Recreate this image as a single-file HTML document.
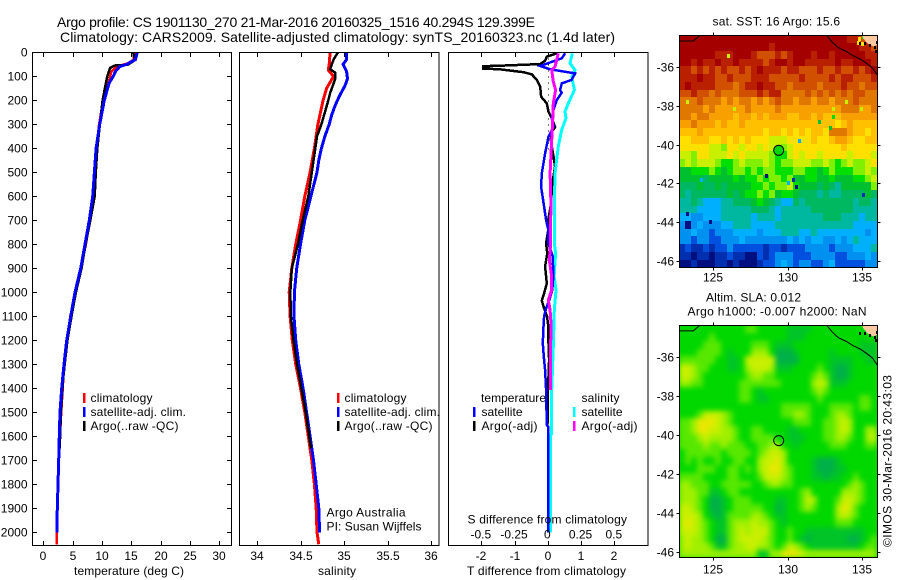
<!DOCTYPE html>
<html>
<head>
<meta charset="utf-8">
<title>Argo profile CS 1901130_270</title>
<style>
html,body{margin:0;padding:0;background:#fff;width:900px;height:580px;overflow:hidden}
svg{display:block}
text{font-family:"Liberation Sans",sans-serif;font-size:12px;fill:#000}
.t14{font-size:14px}
</style>
</head>
<body>
<svg id="chart" xmlns="http://www.w3.org/2000/svg" width="900" height="580" viewBox="0 0 900 580">
  <defs>
    <filter id="slaSmooth" x="-5%" y="-5%" width="110%" height="110%" color-interpolation-filters="sRGB">
      <feGaussianBlur stdDeviation="2.6" edgeMode="duplicate"/>
    </filter>
    <clipPath id="slaClip"><rect x="679.5" y="325.5" width="198" height="232"/></clipPath>
  </defs>
  <rect x="0" y="0" width="900" height="580" fill="#fff"/>
  <text class="t14" x="57" y="27" textLength="478">Argo profile: CS 1901130_270 21-Mar-2016 20160325_1516 40.294S 129.399E</text>
  <text class="t14" x="60" y="42" textLength="555">Climatology: CARS2009. Satellite-adjusted climatology: synTS_20160323.nc (1.4d later)</text>

  <g id="marks1"></g>
  <g id="marks2"></g>
  <g id="marks3"></g>
  <g id="map1"></g>
  <g clip-path="url(#slaClip)">
    <rect x="679.5" y="325.5" width="198" height="232" fill="#00d800"/>
    <g id="map2" filter="url(#slaSmooth)"></g>
  </g>
  <g id="map2over"></g>
  <g id="axes"></g>

  <text x="74" y="575" textLength="110">temperature (deg C)</text>
  <text x="318" y="575" textLength="38">salinity</text>
  <text x="467" y="575" textLength="159">T difference from climatology</text>
  <text x="467.5" y="523.5" textLength="159.5">S difference from climatology</text>

  <g>
    <rect x="83" y="393" width="2.5" height="10" fill="#f00"/>
    <text x="90.5" y="402" textLength="62">climatology</text>
    <rect x="83" y="407" width="2.5" height="10" fill="#00f"/>
    <text x="90.5" y="416" textLength="95.5">satellite-adj. clim.</text>
    <rect x="83" y="421" width="2.5" height="10" fill="#000"/>
    <text x="90.5" y="430" textLength="88">Argo(..raw -QC)</text>
  </g>
  <g>
    <rect x="337" y="393" width="2.5" height="10" fill="#f00"/>
    <text x="344.5" y="402" textLength="62">climatology</text>
    <rect x="337" y="407" width="2.5" height="10" fill="#00f"/>
    <text x="344.5" y="416" textLength="95.5">satellite-adj. clim.</text>
    <rect x="337" y="421" width="2.5" height="10" fill="#000"/>
    <text x="344.5" y="430" textLength="88">Argo(..raw -QC)</text>
  </g>
  <g>
    <text x="481" y="402" textLength="65">temperature</text>
    <rect x="473" y="407" width="2.5" height="10" fill="#00f"/>
    <text x="481.5" y="416" textLength="41">satellite</text>
    <rect x="473" y="421" width="2.5" height="10" fill="#000"/>
    <text x="481.5" y="430" textLength="56">Argo(-adj)</text>
    <text x="581.5" y="402" textLength="38">salinity</text>
    <rect x="573" y="407" width="2.5" height="10" fill="#0ff"/>
    <text x="581.5" y="416" textLength="41">satellite</text>
    <rect x="573" y="421" width="2.5" height="10" fill="#f0f"/>
    <text x="581.5" y="430" textLength="56">Argo(-adj)</text>
  </g>
  <text x="326.5" y="516.5" textLength="79">Argo Australia</text>
  <text x="326.5" y="530.5" textLength="95">PI: Susan Wijffels</text>

  <text x="712.5" y="25.5" textLength="127.5">sat. SST: 16 Argo: 15.6</text>
  <text x="706" y="301.5" textLength="95">Altim. SLA: 0.012</text>
  <text x="687.5" y="315.5" textLength="179">Argo h1000: -0.007 h2000: NaN</text>
  <text transform="translate(891.5,547) rotate(-90)" x="0" y="0" textLength="172">©IMOS 30-Mar-2016 20:43:03</text>
</svg>
<script>
// ---------- profile data (depth in dbar) ----------
const tempClimDepth=[0,30,45,60,80,120,170,200,300,400,500,600,700,800,900,1000,1100,1200,1300,1400,1500,1550,1700,2000,2050];
const tempClimValue=[15.5,15.4,14.5,12.5,11.6,11.2,10.7,10.2,9.5,9.1,8.8,8.5,7.9,7.25,6.4,5.5,4.6,4.1,3.55,3.3,3.05,2.95,2.6,2.25,2.25];
const tempArgoDepth=[0,32,52,55,65,100,150,200,300,400,500,600,700,800,900,1000,1100,1200,1300,1367,1500,1650];
const tempArgoValue=[15.3,15.6,14.4,12.2,11.4,10.9,10.5,10.1,9.65,9.2,8.95,8.75,8,7.2,6.5,5.55,4.8,4.1,3.65,3.35,3,2.8];
const tempSatDepth=[0,30,50,60,80,100,130,200,300,400,500,600,700,800,900,1000,1100,1200,1300,1400,1500,1600,1700,1800,1900,2000];
const tempSatValue=[16,15.7,14.2,13,12.3,11.9,11.2,10.4,9.6,9,8.7,8.41,7.84,7.1,6.37,5.4,4.67,3.98,3.53,3.13,2.85,2.73,2.63,2.5,2.38,2.3];

const salClimDepth=[0,50,74,100,150,200,300,400,500,600,700,800,900,1000,1100,1200,1300,1400,1500,1600,1700,1800,1900,2000,2050];
const salClimValue=[34.84,34.83,34.82,34.88,34.8,34.76,34.7,34.66,34.61,34.55,34.5,34.445,34.4,34.37,34.38,34.406,34.445,34.5,34.55,34.59,34.63,34.66,34.68,34.69,34.71];
const salArgoDepth=[0,30,70,85,110,130,170,200,250,300,350,400,500,600,700,800,900,1000,1100,1200,1300,1400,1500,1650];
const salArgoValue=[34.93,34.88,34.84,34.9,34.9,34.88,34.84,34.82,34.78,34.74,34.69,34.67,34.63,34.59,34.525,34.47,34.4,34.383,34.39,34.42,34.46,34.51,34.56,34.62];
const salSatDepth=[0,30,50,80,110,140,180,220,260,300,350,400,450,500,600,700,800,900,1000,1100,1200,1300,1400,1500,1600,1700,1800,1900,2000];
const salSatValue=[35.03,35.03,34.99,35.03,35.04,35.01,34.95,34.9,34.86,34.83,34.78,34.74,34.71,34.69,34.62,34.55,34.5,34.456,34.43,34.425,34.445,34.48,34.53,34.57,34.61,34.65,34.68,34.71,34.72];

const dTArgoDepth=[4,18,35,49,56,58,68,71,83,92,115,143,185,213,247,275,312,331,366,435,477,532,643,699,740,796,838,893,963,1004,1035,1067,1101,1143,1213,1282,1351,1407,1553];
const dTArgoValue=[0.27,-0.03,-0.08,-0.23,-1.44,-1.94,-1.94,-1.44,-0.73,-0.48,-0.33,-0.23,-0.2,-0.03,0.02,0.12,0.22,0.12,0.09,0.17,0.22,0.15,0.08,0.015,0.015,-0.05,-0.015,-0.08,-0.03,-0.11,-0.18,-0.11,-0.02,0.015,0.02,0.04,0.02,0,-0.01];
const dTSatDepth=[4,25,57,71,88,115,129,157,168,199,240,275,310,352,421,504,560,643,699,740,796,851,935,990,1032,1067,1101,1157,1213,1268,1324,1407,1553,1560,2000];
const dTSatValue=[0.52,0.42,-0.23,0.07,0.82,0.72,0.42,0.37,0.42,0.27,0.17,0.12,0.17,0.02,-0.08,-0.18,-0.2,-0.11,-0.05,0.015,0.015,0.15,0.165,0.135,0.045,-0.05,-0.11,-0.135,-0.15,-0.12,-0.08,-0.05,-0.03,0.015,0.015];
const dSSatDepth=[4,46,74,102,157,213,247,275,324,393,504,657,796,838,935,990,1074,1213,1407,1590,1595,2000];
const dSSatValue=[0.184,0.167,0.205,0.18,0.2,0.154,0.129,0.137,0.104,0.079,0.054,0.049,0.049,0.059,0.047,0.062,0.049,0.042,0.029,0.029,0.019,0.019];
const dSArgoDepth=[4,60,74,122,157,213,282,366,504,643,740,796,865,935,990,1032,1074,1129,1213,1351,1407];
const dSArgoValue=[0.079,0.054,0.029,0.041,0.059,0.041,0.037,0.029,0.017,0.024,0.019,0.022,0.011,0.029,0.029,0.004,0.017,0.024,0.022,0.022,0.02];

// ---------- tick labels ----------
const depthTicks=[0,100,200,300,400,500,600,700,800,900,1000,1100,1200,1300,1400,1500,1600,1700,1800,1900,2000];
const tempTicks=[0,5,10,15,20,25,30];
const salTicks=[34,34.5,35,35.5,36];
const dTTicks=[-2,-1,0,1,2];
const dSTicks=[-0.5,-0.25,0,0.25,0.5];
const lonTicks=[125,130,135];
const latTicks=[-36,-38,-40,-42,-44,-46];
const argoLon=129.399;
const argoLat=-40.294;

// ---------- SST map levels, 30 rows by 33 columns, north to south ----------
const sstLevels=[
[17,17,17,17,17,17,17,17,17,17,17,17,17,17,17,17,17,17,17,17,17,17,17,17,17,17,17,17,16,16,15,15,15],
[17,17,17,17,17,17,17,17,17,17,17,17,17,17,17,16,17,17,17,17,17,17,17,17,17,17,17,17,17,17,16,16,15],
[17,17,17,17,17,17,16,16,16,17,17,17,16,15,15,15,16,15,16,17,17,17,16,17,17,16,17,17,17,17,17,16,16],
[17,17,16,17,16,16,17,16,16,17,16,16,16,16,15,16,17,17,16,17,17,16,16,16,16,16,17,16,16,17,17,17,16],
[16,16,15,16,15,16,15,16,15,15,16,15,16,17,16,16,16,15,16,16,15,15,15,16,15,15,16,15,15,16,15,16,17],
[16,16,16,17,16,16,15,15,16,15,15,15,16,16,16,15,15,15,15,15,16,15,15,15,15,16,15,16,16,15,15,15,16],
[16,17,16,16,16,16,15,15,15,14,15,16,16,17,16,16,15,15,14,15,15,15,15,14,15,15,15,16,15,15,14,15,15],
[15,15,16,15,15,14,15,14,14,14,15,15,15,16,15,16,16,14,14,14,14,15,14,15,14,15,14,15,14,15,15,14,14],
[14,14,14,15,14,14,14,13,14,13,14,14,13,14,13,14,15,14,14,13,14,14,13,14,14,13,14,14,14,15,14,14,14],
[14,14,14,14,13,14,13,13,13,13,13,14,13,13,13,13,14,13,13,13,13,13,13,13,13,13,13,14,14,14,13,13,14],
[14,14,13,14,14,13,13,13,13,12,13,13,12,13,12,13,13,13,12,12,13,13,12,13,12,12,12,13,13,13,13,13,13],
[13,13,14,13,13,13,12,13,12,12,13,12,12,12,12,12,12,12,12,12,12,12,12,12,12,12,11,12,13,12,12,12,12],
[12,12,12,13,12,12,12,12,12,12,12,12,12,12,11,12,12,11,12,11,12,11,12,12,11,14,14,14,13,12,12,11,12],
[11,11,12,12,12,11,11,12,11,12,11,12,11,11,11,10,10,10,11,11,11,11,12,11,11,12,13,13,12,11,11,12,12],
[11,11,11,11,11,10,10,9,11,11,10,11,11,10,11,10,10,9,10,11,11,11,11,11,11,11,11,12,11,11,11,11,11],
[10,10,9,11,11,10,10,10,11,10,11,10,10,10,10,9,8,8,10,11,10,11,11,10,11,11,11,11,10,11,11,11,10],
[9,10,9,10,10,10,9,8,8,9,10,9,9,9,10,9,8,9,9,10,10,10,9,9,10,9,8,9,10,9,9,10,11],
[7,7,8,8,8,9,8,7,8,9,9,8,9,8,9,9,8,8,8,9,9,8,8,7,8,9,8,8,8,9,9,10,9],
[7,7,7,7,6,7,7,7,7,8,7,8,8,9,8,9,9,8,9,7,7,8,8,7,7,8,7,7,7,8,8,9,10],
[6,6,6,7,6,6,7,6,7,7,7,7,8,8,9,8,9,9,10,8,7,7,7,6,7,6,5,7,7,7,7,7,9],
[6,5,6,6,6,6,6,6,7,6,7,8,8,9,8,9,7,8,8,7,6,6,6,5,6,5,5,6,6,6,6,7,6],
[5,5,6,5,4,4,4,5,5,6,6,6,7,8,7,6,5,4,4,6,5,6,6,6,6,6,6,6,6,5,6,6,5],
[5,5,5,4,4,4,4,5,5,5,5,5,6,6,6,5,4,5,5,5,5,5,6,6,6,6,6,6,6,5,5,5,5],
[4,4,3,3,4,4,4,5,5,5,5,5,4,5,5,5,4,5,5,5,5,5,5,5,6,6,6,5,5,5,4,5,5],
[3,0,3,4,3,3,3,4,4,5,5,5,4,4,4,4,5,5,5,5,5,5,5,5,5,5,5,5,5,4,4,4,4],
[3,3,4,3,3,2,3,3,3,4,4,4,4,3,4,4,4,5,5,5,4,4,5,4,4,4,4,4,4,4,4,3,4],
[3,3,2,3,3,2,2,3,3,3,4,3,3,3,3,3,3,3,4,3,4,3,4,4,3,3,4,3,4,5,4,4,4],
[1,2,1,1,2,1,2,2,3,2,2,2,2,2,1,2,2,1,2,2,2,3,3,3,3,2,3,3,3,4,4,4,5],
[1,1,0,1,1,0,1,1,2,1,1,0,0,2,1,2,3,3,3,2,2,2,3,3,3,3,2,2,3,3,3,4,3],
[0,0,1,0,0,0,1,1,0,1,0,0,0,1,2,2,3,4,3,2,3,3,2,2,3,4,2,2,2,2,2,3,3]
];
const sstSpeckLon=[126.0,123.25,126.41,133.97,133.1,133.1,132.13,132.9,130.78,134.98,128.59,130.38,130.6,135.13,123.25,124.78,124.2,130.04,134.85,135.0,134.75,135.1];
const sstSpeckLat=[-35.42,-37.79,-38.18,-37.79,-38.18,-38.6,-38.82,-39.16,-39.81,-38.18,-41.6,-41.81,-42.17,-42.6,-43.56,-43.97,-41.8,-42,-34.55,-34.8,-34.75,-34.45];
const sstSpeckLevel=[10,10,10,10,10,8,7,7,4,10,0,1,0,1,0,0,4,4,11,11,11,8];

// ---------- SLA map levels, 30 rows by 33 columns, north to south ----------
const slaLevels=[
[2,2,2,2,2,2,2,2,2,2,2,3,3,2,2,2,2,2,1,1,1,1,2,2,2,2,2,2,2,2,2,2,2],
[2,2,2,2,2,3,2,2,2,2,2,2,2,2,2,2,2,2,1,1,1,2,2,2,2,2,2,2,2,2,2,2,2],
[2,2,2,2,3,3,3,2,2,2,2,2,3,3,3,2,1,1,1,2,2,2,2,2,2,2,2,2,2,2,1,1,1],
[2,2,2,3,3,3,3,2,1,2,2,2,4,4,4,2,0,0,0,1,2,2,2,2,2,1,2,2,2,2,1,1,1],
[3,3,3,3,3,3,2,2,1,1,2,5,5,5,5,5,0,0,0,0,2,2,2,2,2,1,1,1,1,2,2,1,1],
[5,5,4,3,3,2,2,2,1,1,2,4,5,5,5,4,1,1,1,2,2,2,2,3,2,1,0,0,1,2,2,2,2],
[5,5,4,3,2,2,2,2,2,2,2,3,4,4,3,3,2,2,2,2,2,2,3,4,3,1,0,0,1,2,2,2,2],
[4,4,3,3,2,2,2,2,2,2,3,3,3,3,3,3,3,2,2,2,2,2,4,5,4,1,1,1,2,2,2,2,2],
[2,2,2,2,2,2,2,2,2,2,3,3,2,1,2,2,2,2,2,2,2,2,3,4,3,2,2,2,2,2,2,2,2],
[2,2,2,2,2,2,2,2,2,2,3,3,2,1,1,2,2,2,2,2,2,2,2,3,2,2,2,2,2,2,3,3,2],
[2,2,2,2,2,2,2,2,2,2,2,2,2,2,2,2,2,3,3,3,3,3,2,2,2,3,3,3,3,2,3,3,2],
[2,2,2,3,5,5,5,4,3,2,2,2,2,2,2,2,2,3,3,4,4,3,2,2,2,3,4,4,3,2,2,2,2],
[3,3,4,6,6,6,5,4,3,2,2,2,2,2,2,2,2,2,2,3,3,3,2,2,3,3,4,5,4,2,2,2,2],
[3,3,4,6,6,5,5,4,4,3,2,2,3,3,2,2,2,2,1,1,2,2,2,2,3,3,4,5,4,2,2,4,4],
[3,3,3,4,5,4,4,4,4,3,2,2,3,3,3,3,2,2,1,1,1,2,2,2,3,3,4,4,3,2,2,4,5],
[3,3,3,3,4,3,3,4,3,3,3,2,2,3,3,4,4,2,2,1,2,2,2,2,2,3,3,3,2,2,2,3,3],
[2,3,3,3,3,3,3,2,3,3,3,3,2,3,4,5,5,4,2,2,2,2,2,2,2,2,2,2,2,2,2,2,2],
[2,3,2,3,2,2,3,2,2,3,3,2,2,4,5,5,6,4,2,2,2,2,1,0,0,0,1,2,2,2,2,2,2],
[2,2,2,3,3,3,2,2,3,3,2,3,2,4,5,6,6,4,3,2,2,2,1,0,0,0,1,1,2,2,2,2,2],
[3,3,3,3,2,2,2,2,3,3,2,2,2,3,5,5,5,4,3,2,2,2,1,1,0,1,1,2,2,3,2,2,2],
[4,4,3,3,3,2,2,3,3,3,3,3,2,2,3,4,4,3,3,2,2,2,2,2,2,2,2,2,3,4,3,2,2],
[4,4,4,3,3,1,1,2,3,3,2,2,2,2,2,2,2,2,2,2,3,4,2,2,2,2,2,4,4,4,3,2,2],
[4,4,4,3,2,0,0,1,2,3,3,3,2,2,2,2,1,1,2,2,3,5,4,2,2,2,3,5,5,4,3,2,2],
[5,5,4,3,2,0,0,1,2,3,3,3,3,3,2,2,0,1,2,2,3,4,3,2,2,2,4,6,5,3,2,2,2],
[5,5,5,4,2,1,0,1,3,3,3,3,4,4,3,2,1,1,2,2,2,2,2,2,2,2,4,5,4,3,2,2,2],
[5,6,5,4,3,2,1,1,3,4,4,4,5,4,4,3,2,1,2,2,2,2,2,2,2,2,3,3,3,2,2,2,2],
[5,5,5,4,3,2,1,1,3,4,5,4,5,5,5,3,2,2,3,2,2,1,1,1,1,1,1,1,1,1,1,2,2],
[4,5,4,4,3,2,0,0,3,4,5,5,5,5,4,3,2,2,3,2,1,0,1,1,1,1,1,1,0,0,1,2,3],
[4,5,4,4,4,3,1,1,3,4,4,5,5,4,4,3,2,3,5,4,3,2,1,1,1,1,1,1,1,1,2,3,3],
[4,4,4,4,4,4,4,4,4,4,4,4,4,1,1,4,4,6,6,6,5,4,4,4,4,4,4,4,4,4,4,4,4]
];

// ---------- coast and land outlines (degrees) ----------
const coastWestLon=[122.71,123.66,124.1];
const coastWestLat=[-34.66,-34.66,-34.37];
const coastEastLon=[132.63,133.0,133.4,133.97,134.4,134.9,135.3,135.7,136.03];
const coastEastLat=[-34.37,-34.72,-35.0,-35.21,-35.42,-35.6,-35.81,-36.05,-36.41];
const landLon=[135.0,136.03,136.03,135.8,135.4,135.1];
const landLat=[-34.37,-34.37,-34.85,-34.95,-34.8,-34.55];
const islandLon=[135.55,135.9,135.95,134.85,135.2,135.98];
const islandLat=[-34.85,-34.95,-35.15,-34.75,-34.75,-34.7];

// ---------- colours ----------
const sstColors=['#000f80','#0030b0','#0050e0','#0090f0','#00b0ff','#00b8a0','#00b860','#00c030','#00e000','#80f000','#c8f000','#ffe000','#ffc000','#f8a000','#e07800','#d05000','#b82000','#a50000'];
const slaColors=['#00b048','#00c428','#00d800','#58e800','#a0f000','#c8f000','#e8e800'];

// ---------- axis functions ----------
const NS='http://www.w3.org/2000/svg';
const yDepth=d=>52.3+0.24*d;
const xTemp=t=>43.3+5.87*t;
const xSal=s=>257+87*(s-34);
const xDT=t=>547.8+33.25*t;
const xDS=s=>547.8+133*s;
const xLon=l=>713.3+14.87*(l-125);
const yLat1=l=>67+19.4*(-36-l);
const yLat2=l=>357+19.47*(-36-l);
const LON0=122.71,LON1=136.03,LAT0=-34.37,LAT1=-46.33;

function el(tag,parent,attrs){
  const e=document.createElementNS(NS,tag);
  for(const k in attrs) e.setAttribute(k,attrs[k]);
  parent.appendChild(e);
  return e;
}
function drawSeries(parent,name,depths,values,xf,color,w){
  const pts=depths.map((d,i)=>xf(values[i]).toFixed(1)+','+yDepth(d).toFixed(1)).join(' ');
  const line=el('polyline',parent,{points:pts,fill:'none',stroke:color,'stroke-width':w,'shape-rendering':'crispEdges','stroke-linejoin':'miter'});
  
  
}
const m1=document.getElementById('marks1');
drawSeries(m1,'temperature-climatology-line',tempClimDepth,tempClimValue,xTemp,'#f00',2.5);
drawSeries(m1,'temperature-argo-line',tempArgoDepth,tempArgoValue,xTemp,'#000',2.5);
drawSeries(m1,'temperature-satellite-line',tempSatDepth,tempSatValue,xTemp,'#00f',3);
const m2=document.getElementById('marks2');
drawSeries(m2,'salinity-climatology-line',salClimDepth,salClimValue,xSal,'#f00',3);
drawSeries(m2,'salinity-satellite-line',salSatDepth,salSatValue,xSal,'#00f',3);
drawSeries(m2,'salinity-argo-line',salArgoDepth,salArgoValue,xSal,'#000',2.5);
const m3=document.getElementById('marks3');
const zero=el('line',m3,{x1:xDT(0)+0.5,x2:xDT(0)+0.5,y1:yDepth(0),y2:yDepth(420),stroke:'#000','stroke-width':1,'stroke-dasharray':'1 5','shape-rendering':'crispEdges'});


drawSeries(m3,'t-difference-argo-line',dTArgoDepth,dTArgoValue,xDT,'#000',2.5);
drawSeries(m3,'s-difference-satellite-line',dSSatDepth,dSSatValue,xDS,'#0ff',3);
drawSeries(m3,'t-difference-satellite-line',dTSatDepth,dTSatValue,xDT,'#00f',2.5);
drawSeries(m3,'s-difference-argo-line',dSArgoDepth,dSArgoValue,xDS,'#f0f',3);

function drawGrid(parent,name,grid,colors,yf){
  const nr=grid.length,nc=grid[0].length;
  const dLon=(LON1-LON0)/nc,dLat=(LAT0-LAT1)/nr;
  grid.forEach((row,r)=>row.forEach((v,c)=>{
    const x0=Math.round(xLon(LON0+c*dLon)),x1=Math.round(xLon(LON0+(c+1)*dLon));
    const y0=Math.round(yf(LAT0-r*dLat)),y1=Math.round(yf(LAT0-(r+1)*dLat));
    const cell=el('rect',parent,{x:x0,y:y0,width:x1-x0,height:y1-y0,fill:colors[v],'shape-rendering':'crispEdges'});
    
    
  }));
}
const map1=document.getElementById('map1');
const map2=document.getElementById('map2');
const map2over=document.getElementById('map2over');
drawGrid(map1,'sst-cell',sstLevels,sstColors,yLat1);
drawGrid(map2,'sla-cell',slaLevels,slaColors,yLat2);
sstSpeckLon.forEach((lon,i)=>{
  const sp=el('rect',map1,{x:Math.round(xLon(lon)-1.5),y:Math.round(yLat1(sstSpeckLat[i])-2),width:3,height:4,fill:sstColors[sstSpeckLevel[i]],'shape-rendering':'crispEdges'});
  
  
});
[[map1,yLat1,'sst'],[map2over,yLat2,'sla']].forEach(([g,yf,n])=>{
  const land=el('polygon',g,{points:landLon.map((l,i)=>xLon(l)+','+yf(landLat[i])).join(' '),fill:'#ffc8a0','shape-rendering':'crispEdges'});
  
  
  islandLon.forEach((l,i)=>{
    const isl=el('rect',g,{x:Math.round(xLon(l)-1),y:Math.round(yf(islandLat[i])-1),width:2,height:3,fill:'#000','shape-rendering':'crispEdges'});
    
    
  });
  const w=el('polyline',g,{points:coastWestLon.map((l,i)=>xLon(l)+','+yf(coastWestLat[i])).join(' '),fill:'none',stroke:'#000','stroke-width':1});
  
  
  const e=el('polyline',g,{points:coastEastLon.map((l,i)=>xLon(l)+','+yf(coastEastLat[i])).join(' '),fill:'none',stroke:'#000','stroke-width':1});
  
  
  const c=el('circle',g,{cx:xLon(argoLon),cy:yf(argoLat),r:5,fill:n==='sst'?'#00d800':'none',stroke:'#000','stroke-width':1});
  
  
});

// ---------- axes ----------
const ax=document.getElementById('axes');
function line(x1,y1,x2,y2,name){
  const l=el('line',ax,{x1,y1,x2,y2,stroke:'#000','stroke-width':1,'shape-rendering':'crispEdges'});
  
  
}
function label(x,y,s,anchor,name){
  const t=el('text',ax,{x,y,'text-anchor':anchor});
  t.textContent=s;
  
  
}
function frame(x,y,w,h,name,sw){
  const r=el('rect',ax,{x,y,width:w,height:h,fill:'none',stroke:'#000','stroke-width':sw,'shape-rendering':'crispEdges'});
  
  
}
const TOP=52.5,BOT=545.5;
frame(32.5,TOP,199,BOT-TOP,'temperature-panel-frame',1);
frame(239.5,TOP,199.5,BOT-TOP,'salinity-panel-frame',1);
frame(448.5,TOP,199.5,BOT-TOP,'difference-panel-frame',1);
depthTicks.forEach(d=>{
  const y=Math.round(yDepth(d))+0.5;
  line(32.5,y,37,y,'depth-tick');
  line(227,y,231.5,y,'depth-tick');
  label(27.5,y+3.8,String(d),'end','depth-tick-label');
});
function xTicks(ticks,xf,name,labelY,fmt){
  ticks.forEach(v=>{
    const x=Math.round(xf(v))+0.5;
    line(x,TOP,x,TOP+4.5,name+'-tick');
    line(x,BOT-4.5,x,BOT,name+'-tick');
    if(labelY) label(x-0.5,labelY,fmt?fmt(v):String(v),'middle',name+'-tick-label');
  });
}
xTicks(tempTicks,xTemp,'temperature',560);
xTicks(salTicks,xSal,'salinity',560);
xTicks(dTTicks,xDT,'t-difference',560);
dSTicks.forEach(v=>label(xDS(v)-0.5,538.5,String(v),'middle','s-difference-tick-label'));

function mapAxes(top,bottom,yf,n,lonLabelY){
  frame(679.5,top,198,bottom-top,n+'-map-frame',1);
  lonTicks.forEach(l=>{
    const x=Math.round(xLon(l))+0.5;
    line(x,top-3,x,top,n+'-lon-tick');
    line(x,bottom,x,bottom+3,n+'-lon-tick');
    label(x-0.5,lonLabelY,String(l),'middle',n+'-lon-tick-label');
  });
  latTicks.forEach(l=>{
    const y=Math.round(yf(l))+0.5;
    line(676.5,y,679.5,y,n+'-lat-tick');
    line(877.5,y,880.5,y,n+'-lat-tick');
    label(674,y+3.8,String(l),'end',n+'-lat-tick-label');
  });
}
mapAxes(35.5,267.5,yLat1,'sst',281.5);
mapAxes(325.5,557.5,yLat2,'sla',573.5);
</script>
</body>
</html>
